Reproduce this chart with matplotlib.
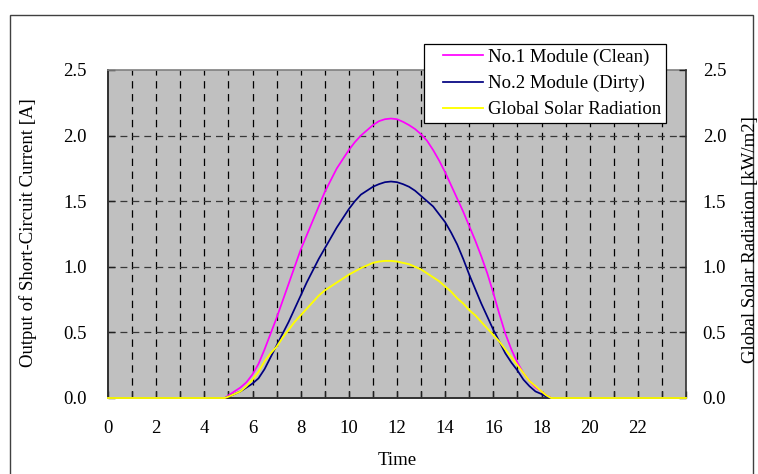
import matplotlib
matplotlib.use('Agg')
import matplotlib.pyplot as plt
from matplotlib.patches import Rectangle
from matplotlib.lines import Line2D
from matplotlib.legend_handler import HandlerLine2D
from matplotlib.ticker import MultipleLocator, FormatStrFormatter

# ---- data ----
time_h = [0, 4.85,
          5.0, 5.25, 5.5, 5.75, 6.0, 6.25, 6.5, 6.75, 7.0, 7.25, 7.5, 7.75,
          8.0, 8.25, 8.5, 8.75, 9.0, 9.25, 9.5, 9.75, 10.0, 10.25, 10.5, 10.75,
          11.0, 11.25, 11.5, 11.75, 12.0, 12.25, 12.5, 12.75, 13.0, 13.25, 13.5, 13.75,
          14.0, 14.25, 14.5, 14.75, 15.0, 15.25, 15.5, 15.75, 16.0, 16.25, 16.5, 16.75,
          17.0, 17.25, 17.5, 17.75, 18.0,
          18.2, 18.4, 24]
clean = [0, 0,
         0.02, 0.05, 0.08, 0.12, 0.18, 0.26, 0.37, 0.49, 0.61, 0.74, 0.87, 1.00,
         1.13, 1.24, 1.35, 1.46, 1.57, 1.66, 1.75, 1.82, 1.89, 1.95, 2.00, 2.04,
         2.08, 2.11, 2.125, 2.13, 2.125, 2.105, 2.08, 2.05, 2.01, 1.96, 1.89, 1.81,
         1.72, 1.62, 1.52, 1.42, 1.31, 1.20, 1.08, 0.95, 0.80, 0.64, 0.49, 0.37,
         0.27, 0.19, 0.13, 0.08, 0.05,
         0.02, 0, 0]
dirty = [0, 0,
         0.01, 0.03, 0.05, 0.08, 0.11, 0.15, 0.22, 0.31, 0.40, 0.49, 0.58, 0.68,
         0.78, 0.88, 0.97, 1.06, 1.14, 1.22, 1.30, 1.37, 1.44, 1.50, 1.55, 1.58,
         1.61, 1.63, 1.645, 1.65, 1.645, 1.63, 1.61, 1.58, 1.54, 1.50, 1.46, 1.40,
         1.34, 1.26, 1.17, 1.06, 0.94, 0.83, 0.72, 0.62, 0.52, 0.43, 0.34, 0.27,
         0.21, 0.14, 0.09, 0.05, 0.03,
         0.01, 0, 0]
solar = [0, 0,
         0.01, 0.03, 0.05, 0.09, 0.14, 0.20, 0.28, 0.34, 0.39, 0.46, 0.52, 0.58,
         0.63, 0.68, 0.73, 0.78, 0.82, 0.85, 0.88, 0.91, 0.94, 0.965, 0.99, 1.01,
         1.03, 1.04, 1.045, 1.045, 1.04, 1.03, 1.02, 1.00, 0.98, 0.95, 0.92, 0.89,
         0.85, 0.81, 0.76, 0.72, 0.67, 0.63, 0.58, 0.53, 0.48, 0.43, 0.37, 0.31,
         0.25, 0.19, 0.13, 0.09, 0.05,
         0.02, 0, 0]
series_labels = ["No.1 Module (Clean)", "No.2 Module (Dirty)", "Global Solar Radiation"]
x_ticks = list(range(0, 24, 2))
y_ticks = [0.0, 0.5, 1.0, 1.5, 2.0, 2.5]
x_label = "Time"
y_label_left = "Output of Short-Circuit Current [A]"
y_label_right = "Global Solar Radiation [kW/m2]"

plt.rcParams['font.family'] = ['Liberation Serif', 'DejaVu Serif']
plt.rcParams['lines.scale_dashes'] = False
FS = 13.5

W, H = 758, 474
fig = plt.figure(figsize=(W / 100, H / 100), dpi=100)
L, R, T, B = 108, 686, 70, 398
ax = fig.add_axes([L / W, 1 - B / H, (R - L) / W, (B - T) / H])
ax.set_facecolor('#C0C0C0')
ax.set_xlim(0, 24)
ax.set_ylim(0, 2.5)

for h in range(1, 24):
    ax.axvline(h, color='black', lw=0.9, linestyle=(0, (5.3, 4.0)), zorder=1)
for v in y_ticks[1:-1]:
    ax.axhline(v, color='#383838', lw=0.9, linestyle=(0, (5, 3.6)), zorder=1)

l1, = ax.plot(time_h, clean, color='#FF00FF', lw=1.25, clip_on=False, zorder=4)
l2, = ax.plot(time_h, dirty, color='#000080', lw=1.25, clip_on=False, zorder=4)

ax2 = ax.twinx()
ax2.set_ylim(0, 2.5)
l3, = ax2.plot(time_h, solar, color='#FFFF00', lw=1.35, clip_on=False, zorder=4)

ax.set_xticks(x_ticks)
ax.xaxis.set_minor_locator(MultipleLocator(1))
ax.set_yticks(y_ticks)
ax.yaxis.set_major_formatter(FormatStrFormatter('%.1f'))
ax2.set_yticks(y_ticks)
ax2.yaxis.set_major_formatter(FormatStrFormatter('%.1f'))

ax.tick_params(axis='x', which='both', direction='in', length=5, width=1,
               color='#202020', pad=16, labelsize=FS, top=False)
ax.tick_params(axis='y', which='both', direction='in', length=5, width=1,
               color='#202020', pad=15.5, labelsize=FS, right=False)
ax2.tick_params(axis='y', direction='in', length=5, width=1, color='#202020',
                pad=12, labelsize=FS)

for s in ['left', 'bottom']:
    ax.spines[s].set_color('#303030')
    ax.spines[s].set_linewidth(1.4)
ax.spines['top'].set_color('#808080')
ax.spines['top'].set_linewidth(1.2)
ax.spines['right'].set_visible(False)
for s in ['left', 'bottom', 'top']:
    ax2.spines[s].set_visible(False)
ax2.spines['right'].set_color('#303030')
ax2.spines['right'].set_linewidth(1.2)

fig.text(397 / W, 1 - 465 / H, x_label, ha='center', va='baseline', fontsize=FS)
fig.text(28 / W, 1 - 233 / H, y_label_left, rotation=90, ha='center', va='center', fontsize=FS)
fig.text(751 / W, 1 - 240 / H, y_label_right, rotation=90, ha='center', va='center', fontsize=FS)

leg = fig.legend([l1, l2, l3], series_labels, loc='upper left',
                 bbox_to_anchor=(424 / W, 1 - 44 / H), bbox_transform=fig.transFigure,
                 fontsize=FS, frameon=True, fancybox=False, framealpha=1,
                 edgecolor='black', facecolor='white', borderpad=0.25,
                 labelspacing=0.47, handlelength=2.88, handletextpad=0.27,
                 borderaxespad=0, handler_map={Line2D: HandlerLine2D(xpad=0.75)})
leg.get_frame().set_linewidth(0.9)
leg.set_zorder(10)

fig.add_artist(Rectangle((9.5 / W, -0.05), (753 - 9.5) / W, 0.05 + 1 - 15 / H,
                         transform=fig.transFigure, fill=False,
                         edgecolor='#404040', lw=1.0))

fig.savefig('out.png', dpi=100)
